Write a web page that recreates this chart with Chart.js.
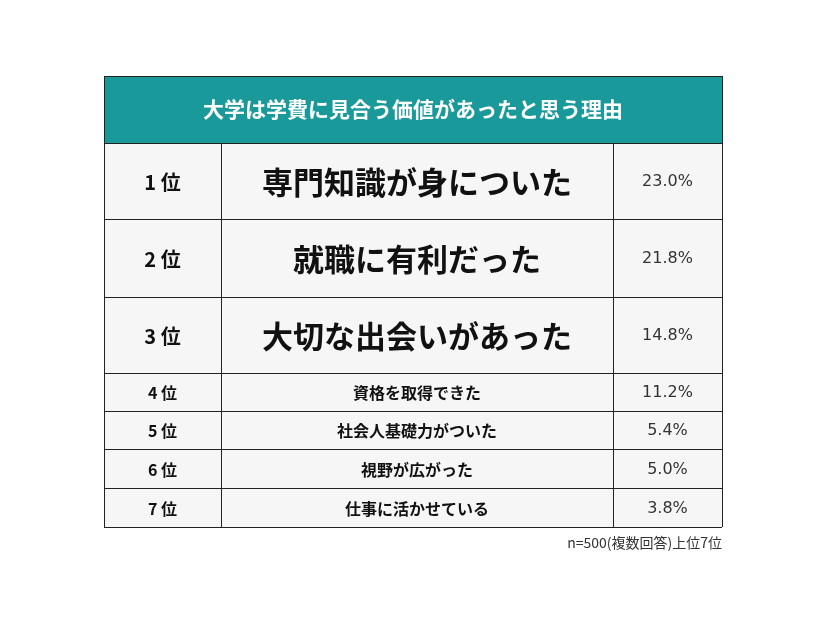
<!DOCTYPE html><html><head><meta charset="utf-8">
<script src="https://cdn.jsdelivr.net/npm/chart.js@4"></script>
<style>body{margin:0;background:#fff}</style></head><body>
<canvas id="c" width="826" height="620"></canvas>
<script>
const title = "大学は学費に見合う価値があったと思う理由";
const ranks = ["1位","2位","3位","4位","5位","6位","7位"];
const reasons = ["専門知識が身についた","就職に有利だった","大切な出会いがあった","資格を取得できた","社会人基礎力がついた","視野が広がった","仕事に活かせている"];
const percents = [23.0, 21.8, 14.8, 11.2, 5.4, 5.0, 3.8];
const note = "n=500(複数回答)上位7位";
// row boundaries (y units) and column boundaries (x units)
const rowEdges = [0, 67, 143, 221, 297, 335, 373, 412, 451];
const colEdges = [0, 117, 509, 618];
const JP = '"Noto Sans CJK JP"';
const tablePlugin = {id:'table', afterDraw(ch){
  const c=ch.ctx, xs=ch.scales.x, ys=ch.scales.y;
  const X=v=>xs.getPixelForValue(v), Y=v=>ys.getPixelForValue(v);
  c.save();
  c.fillStyle='#1a999b'; c.fillRect(X(0),Y(0),X(618)-X(0),Y(67)-Y(0));
  c.fillStyle='#f6f6f6'; c.fillRect(X(0),Y(67),X(618)-X(0),Y(451)-Y(67));
  c.textAlign='center'; c.textBaseline='middle';
  c.fillStyle='#fff'; c.font='bold 21px '+JP;
  c.fillText(title,(X(0)+X(618))/2,(Y(0)+Y(67))/2);
  for(let i=0;i<ranks.length;i++){
    const y0=Y(rowEdges[i+1]), y1=Y(rowEdges[i+2]), ym=(y0+y1)/2+1;
    const big=i<3;
    c.fillStyle='#111';
    c.font='bold '+(big?20:16)+'px '+JP;
    c.fillText(ranks[i].replace('位',' 位'),(X(colEdges[0])+X(colEdges[1]))/2,ym);
    c.font='bold '+(big?31:16)+'px '+JP;
    c.fillText(reasons[i],(X(colEdges[1])+X(colEdges[2]))/2,ym);
    c.fillStyle='#333'; c.font='16px "DejaVu Sans"';
    c.fillText(percents[i].toFixed(1)+'%',(X(colEdges[2])+X(colEdges[3]))/2,ym);
  }
  c.strokeStyle='#222'; c.lineWidth=1;
  c.beginPath();
  for(let i=0;i<rowEdges.length;i++){const y=Math.round(Y(rowEdges[i]))+0.5;c.moveTo(X(0),y);c.lineTo(X(618),y);}
  for(const e of colEdges){const x=Math.round(X(e))+0.5;c.moveTo(x,Y(e===0||e===618?0:67));c.lineTo(x,Y(451));}
  c.stroke();
  c.fillStyle='#333'; c.font='14px '+JP; c.textAlign='right'; c.textBaseline='top';
  c.fillText(note,X(618),Y(451)+9);
  c.restore();
}};
new Chart(document.getElementById('c'),{type:'scatter',
  data:{datasets:[{data:percents.map((p,i)=>({x:colEdges[3],y:rowEdges[i+2]})),pointRadius:0}]},
  options:{responsive:false,animation:false,
    layout:{padding:{left:104,right:104,top:76,bottom:93}},
    plugins:{legend:{display:false},tooltip:{enabled:false}},
    scales:{x:{type:'linear',min:0,max:618,display:false},y:{type:'linear',min:0,max:451,reverse:true,display:false}}},
  plugins:[tablePlugin]});
</script></body></html>
